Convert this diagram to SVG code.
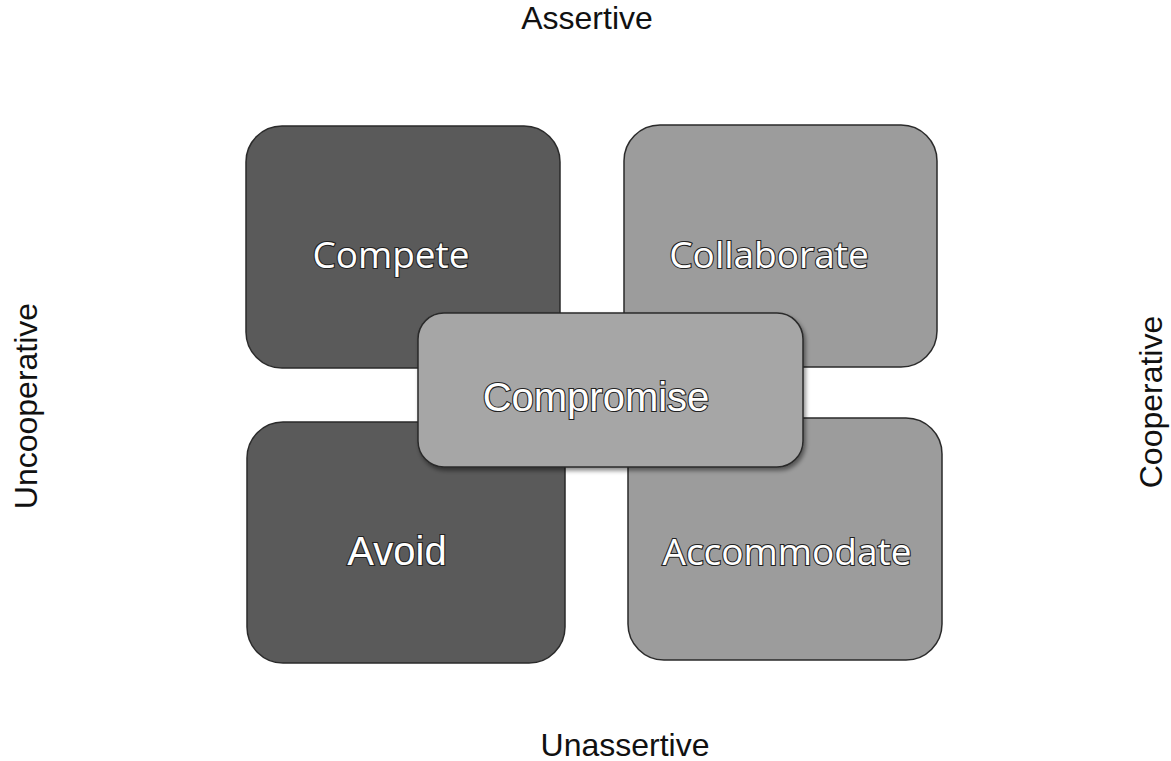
<svg xmlns="http://www.w3.org/2000/svg" width="1171" height="761" viewBox="0 0 1171 761">
  <style>
    .axis { font-family: "Liberation Sans", Arial, sans-serif; font-size: 32px; fill: #111; }
    .box { stroke: #2a2a2a; stroke-width: 1.5; }
    .dark { fill: #5a5a5a; }
    .light { fill: #9c9c9c; }
    .mid { fill: #a6a6a6; }
    .label { fill: #ffffff; stroke: #222; stroke-width: 2.2; paint-order: stroke; text-anchor: middle; }
    .calibri { font-family: "Open Sans", "Noto Sans", sans-serif; font-size: 37px; }
    .arial { font-family: "Liberation Sans", Arial, sans-serif; font-size: 40px; }
  </style>
  <defs>
    <filter id="shadow" x="-10%" y="-10%" width="125%" height="130%">
      <feDropShadow dx="2" dy="3" stdDeviation="2" flood-color="#000" flood-opacity="0.45"/>
    </filter>
  </defs>
  <rect width="1171" height="761" fill="#ffffff"/>

  <!-- axis labels -->
  <text class="axis" x="587" y="29" text-anchor="middle">Assertive</text>
  <text class="axis" x="625" y="756" text-anchor="middle">Unassertive</text>
  <text class="axis" transform="translate(37,406) rotate(-90)" text-anchor="middle">Uncooperative</text>
  <text class="axis" transform="translate(1162,402) rotate(-90)" text-anchor="middle">Cooperative</text>

  <!-- no connectors in this chart -->
  <g id="connectors"></g>

  <g id="compete">
    <rect class="box dark" x="246" y="126" width="314" height="242" rx="36"/>
    <text class="label calibri" x="391" y="268">Compete</text>
  </g>
  <g id="collaborate">
    <rect class="box light" x="624" y="125" width="313" height="242" rx="36"/>
    <text class="label calibri" x="769" y="268">Collaborate</text>
  </g>
  <g id="avoid">
    <rect class="box dark" x="247" y="422" width="318" height="241" rx="36"/>
    <text class="label arial" x="397" y="565">Avoid</text>
  </g>
  <g id="accommodate">
    <rect class="box light" x="628" y="418" width="314" height="242" rx="36"/>
    <text class="label calibri" x="787" y="565">Accommodate</text>
  </g>
  <g id="compromise">
    <rect class="box mid" x="418" y="313" width="385" height="154" rx="26" filter="url(#shadow)"/>
    <text class="label arial" x="596" y="411">Compromise</text>
  </g>
</svg>
